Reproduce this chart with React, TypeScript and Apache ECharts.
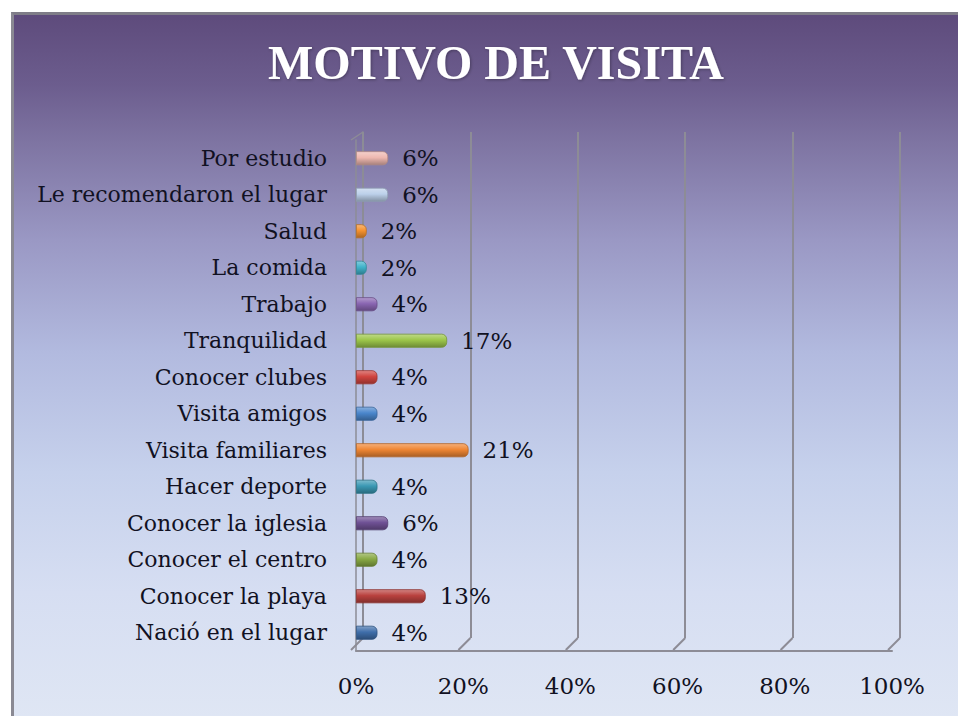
import React, { useEffect, useRef } from "react";
import * as echarts from "echarts";

const titleText = "MOTIVO DE VISITA";
const categories = [
  "Nació en el lugar",
  "Conocer la playa",
  "Conocer el centro",
  "Conocer la iglesia",
  "Hacer deporte",
  "Visita familiares",
  "Visita amigos",
  "Conocer clubes",
  "Tranquilidad",
  "Trabajo",
  "La comida",
  "Salud",
  "Le recomendaron el lugar",
  "Por estudio",
];
const values = [4, 13, 4, 6, 4, 21, 4, 4, 17, 4, 2, 2, 6, 6];
const barColors = [
  "#3f6eaa",
  "#b9413e",
  "#88a944",
  "#6f5195",
  "#3a98b3",
  "#ef8634",
  "#4a86cc",
  "#d0443f",
  "#9cc64a",
  "#8a66b2",
  "#40b3ca",
  "#f5922f",
  "#bcd0ea",
  "#eeb8b0",
];
const xTickMax = 100;
const xTickStep = 20;

function shade(hex: string, f: number): string {
  const n = parseInt(hex.slice(1), 16);
  let r = (n >> 16) & 255, g = (n >> 8) & 255, b = n & 255;
  if (f >= 0) {
    r = r + (255 - r) * f; g = g + (255 - g) * f; b = b + (255 - b) * f;
  } else {
    r = r * (1 + f); g = g * (1 + f); b = b * (1 + f);
  }
  const h = (v: number) => Math.round(v).toString(16).padStart(2, "0");
  return "#" + h(r) + h(g) + h(b);
}

const FONT = "DejaVu Serif";

export default function App() {
  const ref = useRef<HTMLDivElement>(null);
  useEffect(() => {
    if (!ref.current) return;
    const chart = echarts.init(ref.current, undefined, { renderer: "svg" });
    const gridColor = "#8d8c96";
    // decoration: 3D floor diagonals
    const backLeft = 363, backRight = 900, backBottom = 638, frontBottom = 650, depth = 12;
    const diag: any[] = [];
    for (let i = 0; i <= xTickMax / xTickStep; i++) {
      const x = backLeft + ((backRight - backLeft) * i * xTickStep) / xTickMax;
      diag.push({
        type: "line",
        shape: { x1: x, y1: backBottom, x2: x - depth, y2: frontBottom },
        style: { stroke: gridColor, lineWidth: 2 },
        silent: true,
      });
    }
    diag.push({
      type: "line",
      shape: { x1: backLeft, y1: 132, x2: backLeft - depth, y2: 140 },
      style: { stroke: gridColor, lineWidth: 1.5 },
      silent: true,
    });
    chart.setOption({
      animation: false,
      backgroundColor: "transparent",
      title: {
        text: titleText,
        left: 491,
        top: 33,
        textAlign: "center",
        textStyle: {
          fontFamily: "Liberation Serif",
          fontWeight: "bold",
          fontSize: 48,
          color: "#ffffff",
          textShadowColor: "rgba(0,0,0,0.3)",
          textShadowBlur: 3,
          textShadowOffsetX: 1,
          textShadowOffsetY: 1,
        },
      },
      graphic: diag,
      grid: [
        { left: backLeft, right: 958 - backRight, top: 132, bottom: 716 - backBottom, containLabel: false },
        { left: 356, right: 66, top: 140, bottom: 65, containLabel: false },
      ],
      xAxis: [
        {
          gridIndex: 0,
          type: "value",
          min: 0,
          max: xTickMax,
          interval: xTickStep,
          axisLabel: { show: false },
          axisLine: { show: false },
          axisTick: { show: false },
          splitLine: { show: true, lineStyle: { color: gridColor, width: 2 } },
        },
        {
          gridIndex: 1,
          type: "value",
          min: 0,
          max: xTickMax,
          interval: xTickStep,
          axisLabel: {
            formatter: "{value}%",
            fontFamily: FONT,
            fontSize: 23,
            color: "#111122",
            margin: 23,
          },
          axisLine: { show: true, lineStyle: { color: gridColor, width: 2 } },
          axisTick: { show: false },
          splitLine: { show: false },
        },
      ],
      yAxis: [
        {
          gridIndex: 0,
          type: "category",
          data: categories,
          axisLabel: { show: false },
          axisLine: { show: true, lineStyle: { color: gridColor, width: 1.5 } },
          axisTick: { show: false },
          splitLine: { show: false },
        },
        {
          gridIndex: 1,
          type: "category",
          data: categories,
          axisLabel: {
            fontFamily: FONT,
            fontSize: 22,
            color: "#111122",
            margin: 29,
          },
          axisLine: { show: true, lineStyle: { color: gridColor, width: 1.5 } },
          axisTick: { show: false },
          splitLine: { show: false },
        },
      ],
      series: [
        {
          type: "bar",
          xAxisIndex: 1,
          yAxisIndex: 1,
          barWidth: 14,
          data: values.map((v, i) => ({
            value: v,
            itemStyle: {
              color: new echarts.graphic.LinearGradient(0, 0, 0, 1, [
                { offset: 0, color: shade(barColors[i], 0.35) },
                { offset: 0.45, color: barColors[i] },
                { offset: 1, color: shade(barColors[i], -0.3) },
              ]),
              borderColor: shade(barColors[i], -0.25),
              borderWidth: 0.8,
              borderRadius: [0, 5, 5, 0],
            },
          })),
          label: {
            show: true,
            position: "right",
            distance: 14,
            formatter: "{c}%",
            fontFamily: FONT,
            fontSize: 23,
            color: "#111122",
          },
        },
      ],
    });
    return () => chart.dispose();
  }, []);
  return (
    <div
      style={{
        position: "fixed",
        left: 0,
        top: 0,
        width: 958,
        height: 716,
        background: "#ffffff",
      }}
    >
      <div
        style={{
          position: "absolute",
          left: 11,
          top: 12,
          width: 945,
          height: 704,
          borderTop: "3px solid #7f7d88",
          borderLeft: "3px solid #8a8993",
          background:
            "linear-gradient(to bottom, #5e4b7c 0%, #6c5d8e 10%, #7e74a2 18%, #9a98c4 32%, #b2badf 48%, #c6d1ec 65%, #d6def2 82%, #dfe6f4 100%)",
        }}
      />
      <div ref={ref} style={{ position: "absolute", left: 0, top: 0, width: 958, height: 716 }} />
    </div>
  );
}
